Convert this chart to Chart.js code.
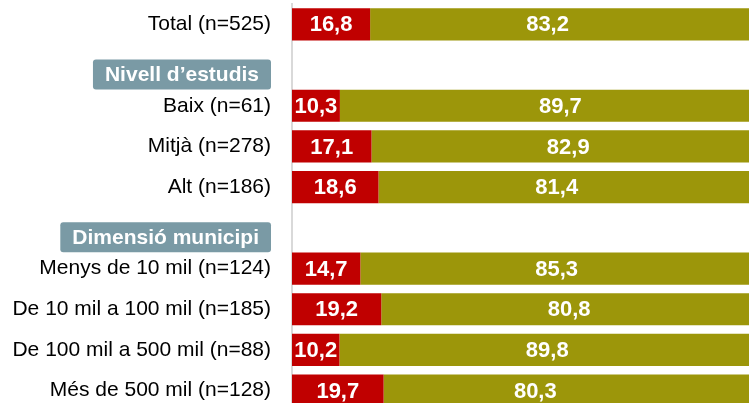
<!DOCTYPE html>
<html>
<head>
<meta charset="utf-8">
<script src="https://cdn.jsdelivr.net/npm/chart.js@4/dist/chart.umd.min.js"></script>
<style>
  html, body { margin: 0; padding: 0; background: #fff; overflow: hidden; width: 749px; height: 403px; }
  canvas { display: block; }
</style>
</head>
<body>
<canvas id="chart" width="758" height="411"></canvas>
<script>
// Row labels (empty rows hold the section headings)
const categories = [
  'Total (n=525)', '',
  'Baix (n=61)', 'Mitjà (n=278)', 'Alt (n=186)', '',
  'Menys de 10 mil (n=124)', 'De 10 mil a 100 mil (n=185)',
  'De 100 mil a 500 mil (n=88)', 'Més de 500 mil (n=128)'
];
const sectionTitles = ['', 'Nivell d’estudis', '', '', '', 'Dimensió municipi', '', '', '', ''];

// Percentages per row
const redValues   = [16.8, null, 10.3, 17.1, 18.6, null, 14.7, 19.2, 10.2, 19.7];
const oliveValues = [83.2, null, 89.7, 82.9, 81.4, null, 85.3, 80.8, 89.8, 80.3];

const FONT = '"Liberation Sans", Arial, sans-serif';

// Value labels written inside each bar segment
const valueLabels = {
  id: 'valueLabels',
  afterDatasetsDraw(chart, args, opts) {
    const ctx = chart.ctx;
    ctx.save();
    ctx.font = 'bold 22px ' + FONT;
    ctx.fillStyle = '#ffffff';
    ctx.textAlign = 'center';
    ctx.textBaseline = 'middle';
    chart.data.datasets.forEach((ds, di) => {
      const meta = chart.getDatasetMeta(di);
      const nudge = (opts.nudge && opts.nudge[di]) || [];
      meta.data.forEach((el, i) => {
        const v = ds.data[i];
        if (v == null) return;
        const p = el.getCenterPoint();
        ctx.fillText(v.toFixed(1).replace('.', ','), p.x + (nudge[i] || 0), p.y + 1);
      });
    });
    ctx.restore();
  }
};

// Section headings drawn as filled tags in the label column
const sectionTags = {
  id: 'sectionTags',
  afterDraw(chart) {
    const ctx = chart.ctx;
    const y = chart.scales.y;
    ctx.save();
    ctx.font = 'bold 21px ' + FONT;
    ctx.textAlign = 'center';
    ctx.textBaseline = 'middle';
    sectionTitles.forEach((t, i) => {
      if (!t) return;
      const cy = y.getPixelForValue(i) + 9.5;
      const w = ctx.measureText(t).width + 24;
      const h = 30;
      const right = 271;
      const left = right - w;
      ctx.fillStyle = '#7a9aa5';
      ctx.beginPath();
      ctx.roundRect(left, cy - h / 2, w, h, 3);
      ctx.fill();
      ctx.fillStyle = '#ffffff';
      ctx.fillText(t, left + w / 2, cy + 1);
    });
    ctx.restore();
  }
};

new Chart(document.getElementById('chart'), {
  type: 'bar',
  data: {
    labels: categories,
    datasets: [
      { data: redValues, backgroundColor: '#c00000', borderWidth: 0 },
      { data: oliveValues, backgroundColor: '#9c960a', borderWidth: 0 }
    ]
  },
  options: {
    indexAxis: 'y',
    responsive: false,
    animation: false,
    devicePixelRatio: 1,
    layout: { padding: { top: 4, right: 1, bottom: 0, left: 0 } },
    datasets: { bar: { categoryPercentage: 1, barPercentage: 0.79 } },
    scales: {
      x: { stacked: true, min: 0, max: 100, display: false },
      y: {
        stacked: true,
        afterFit(scale) {
          scale.width = 292;
          scale.paddingTop = 0;
          scale.paddingBottom = 0;
        },
        grid: { display: false, drawTicks: false },
        border: { display: true, color: '#d9d9d9', width: 2 },
        ticks: { padding: 21, color: '#000000', font: { family: FONT, size: 21 } }
      }
    },
    plugins: {
      legend: { display: false },
      tooltip: { enabled: false },
      valueLabels: { nudge: [[], [-16, 0, 12, 4, -11, 0, -2, 0, -1, -35]] }
    }
  },
  plugins: [valueLabels, sectionTags]
});
</script>
</body>
</html>
